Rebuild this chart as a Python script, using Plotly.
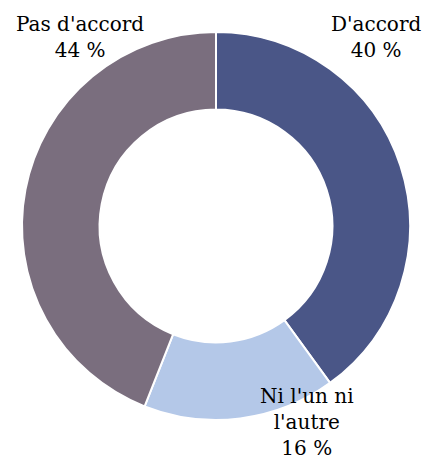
import plotly.graph_objects as go

categories = ["D'accord", "Ni l'un ni<br>l'autre", "Pas d'accord"]
values = [40, 16, 44]
colors = ["#4a5687", "#b4c8e8", "#7a6e7e"]

# label placement (paper coords) for each category
label_x = [0.858, 0.701, 0.183]
label_y = [0.920, 0.083, 0.920]

fig = go.Figure()
fig.add_trace(go.Pie(
    labels=categories,
    values=values,
    hole=0.60,
    sort=False,
    direction="clockwise",
    rotation=0,
    marker=dict(colors=colors, line=dict(color="white", width=2)),
    textinfo="none",
    hoverinfo="label+percent",
    showlegend=False,
    domain=dict(x=[22/438, 410/438], y=[0.0870, 0.9304]),
))

for cat, v, x, y in zip(categories, values, label_x, label_y):
    fig.add_annotation(
        text=f"{cat}<br>{v} %",
        x=x, y=y, xref="paper", yref="paper",
        xanchor="center", yanchor="middle",
        showarrow=False,
        font=dict(family="DejaVu Serif", size=20, color="#000000"),
    )

fig.update_layout(
    width=438, height=460,
    margin=dict(l=0, r=0, t=0, b=0),
    paper_bgcolor="white",
    plot_bgcolor="white",
)

fig.write_html(
    "out.html",
    config={"displayModeBar": False},
    post_script="document.body.style.margin='0';document.body.style.padding='0';",
)
